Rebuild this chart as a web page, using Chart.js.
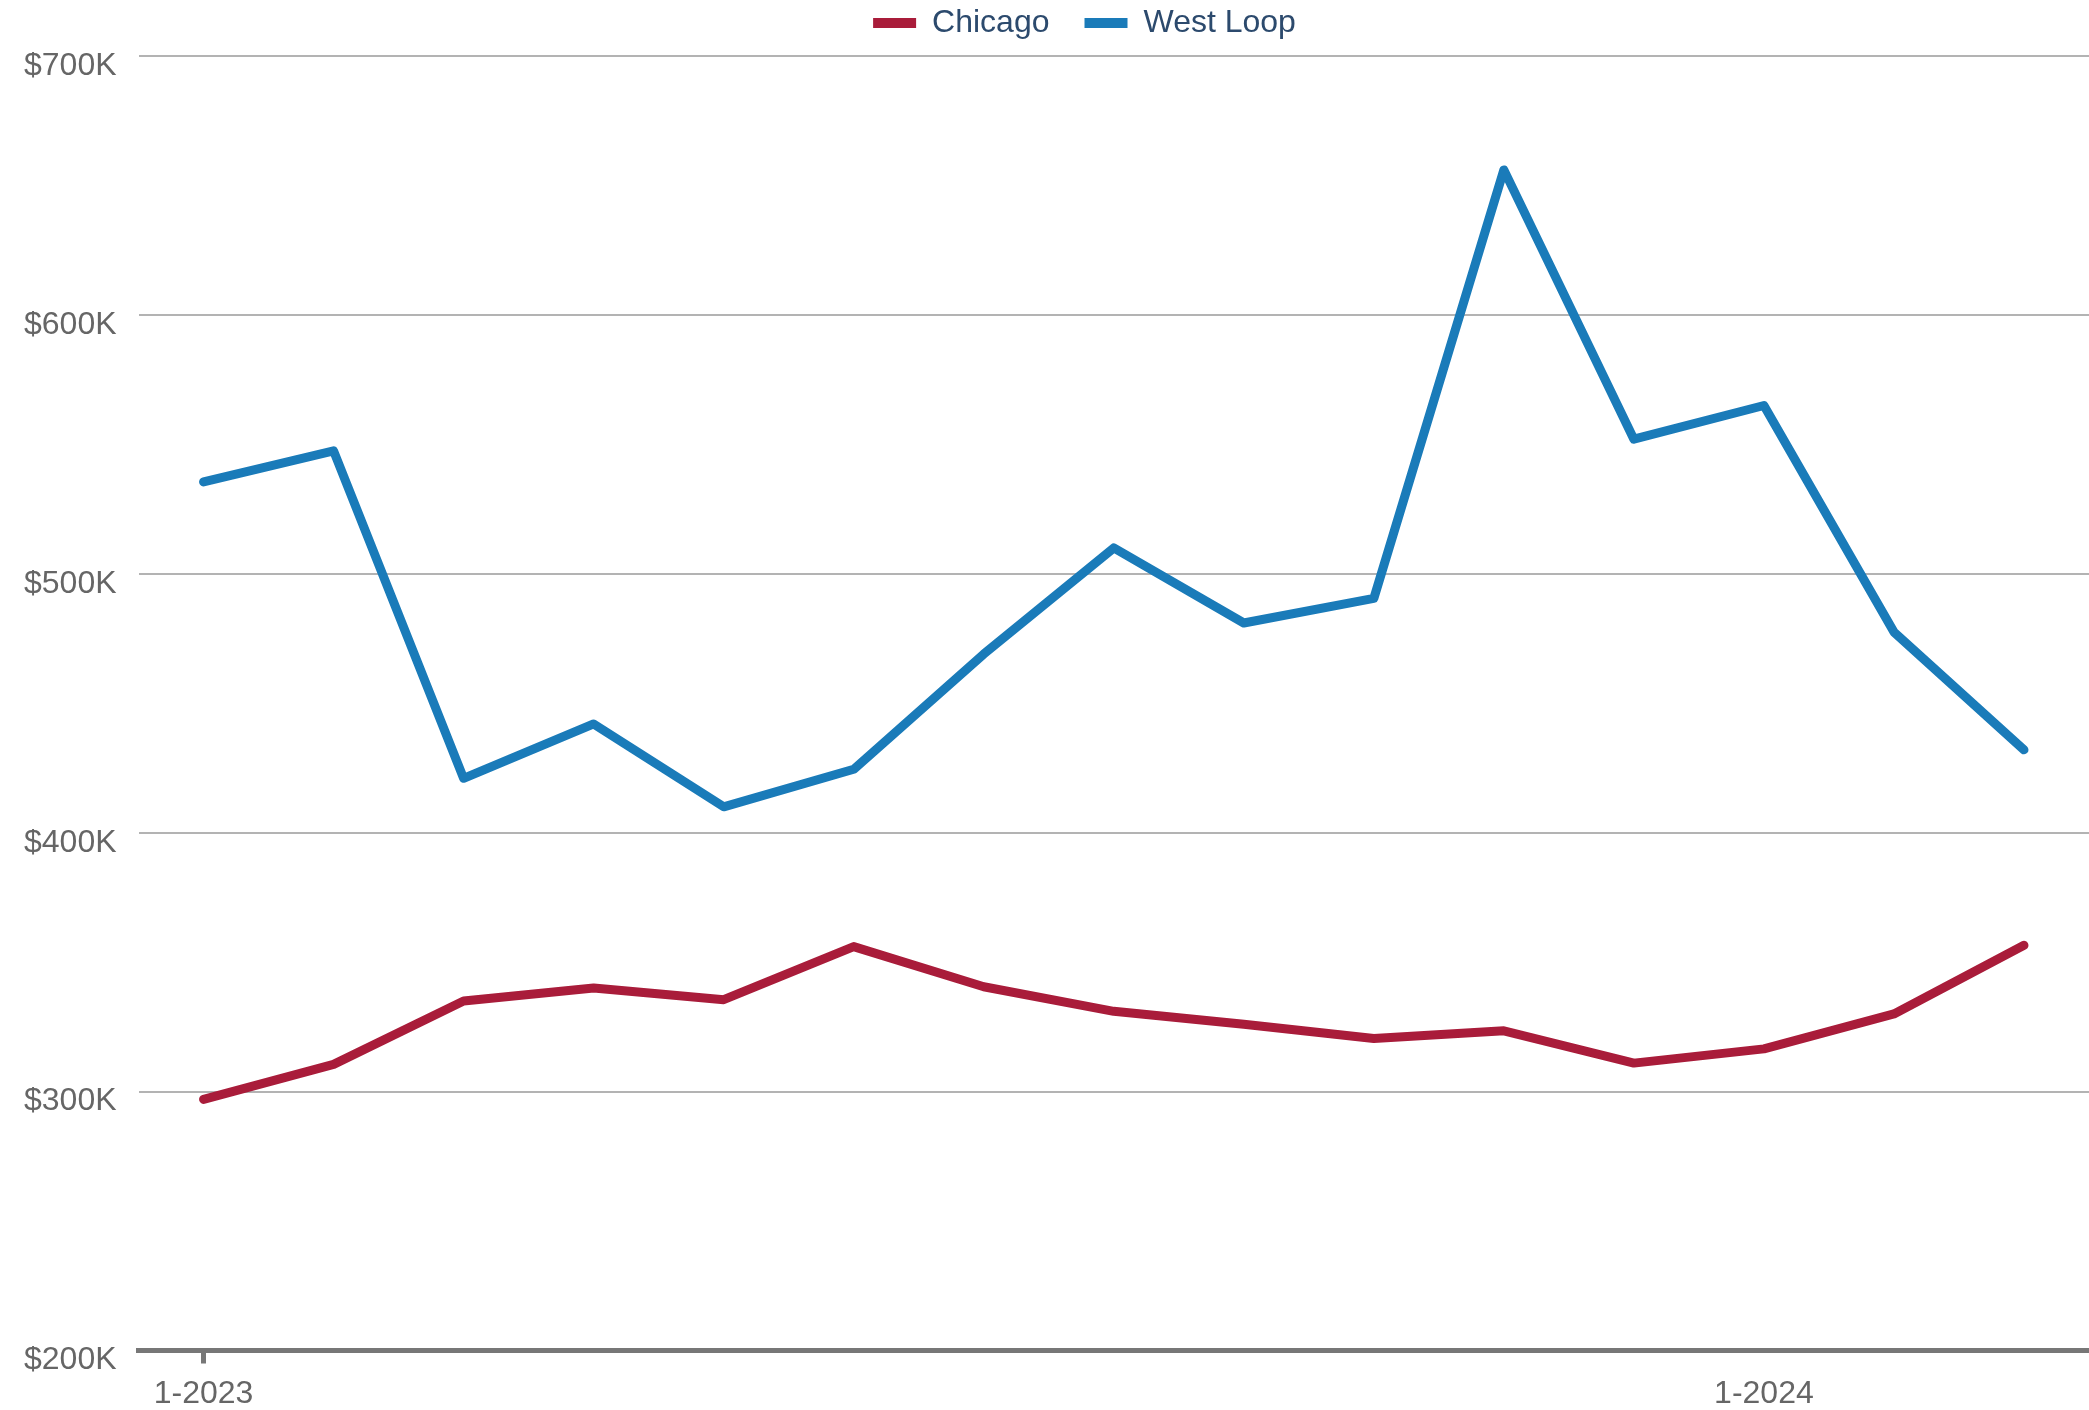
<!DOCTYPE html>
<html>
<head>
<meta charset="utf-8">
<script src="https://cdn.jsdelivr.net/npm/chart.js@4/dist/chart.umd.min.js"></script>
<style>
  html, body { margin: 0; padding: 0; background: #ffffff; overflow: hidden; }
  canvas { display: block; }
</style>
</head>
<body>
<canvas id="chart" width="2089" height="1410"></canvas>
<script>
// Months from 1-2023 to 3-2024
const categories = ['1-2023','2-2023','3-2023','4-2023','5-2023','6-2023','7-2023','8-2023','9-2023','10-2023','11-2023','12-2023','1-2024','2-2024','3-2024'];
// Values in thousands of dollars
const chicagoValues  = [297, 310.5, 335, 340, 335.5, 356, 340.5, 331, 326, 320.5, 323.5, 311, 316.5, 330, 356.5];
const westLoopValues = [535.5, 547.5, 421, 442, 410, 424.5, 469, 510, 481, 490.5, 656, 552, 565, 477.5, 432];
const yTicks = [200, 300, 400, 500, 600, 700];
const xTickLabels = ['1-2023', '1-2024'];

const FONT = "'Liberation Sans', Arial, Helvetica, sans-serif";

new Chart(document.getElementById('chart'), {
  type: 'line',
  data: {
    labels: categories,
    datasets: [
      {
        label: 'Chicago',
        data: chicagoValues,
        borderColor: '#a91c3a',
        backgroundColor: '#a91c3a',
        borderWidth: 9,
        pointRadius: 0,
        pointHoverRadius: 0,
        tension: 0,
        borderCapStyle: 'round',
        borderJoinStyle: 'round',
        fill: false
      },
      {
        label: 'West Loop',
        data: westLoopValues,
        borderColor: '#1a7bb9',
        backgroundColor: '#1a7bb9',
        borderWidth: 9,
        pointRadius: 0,
        pointHoverRadius: 0,
        tension: 0,
        borderCapStyle: 'round',
        borderJoinStyle: 'round',
        fill: false
      }
    ]
  },
  options: {
    responsive: false,
    devicePixelRatio: 1,
    animation: false,
    layout: { padding: { top: -39, left: 2, right: -78, bottom: 0 } },
    plugins: {
      tooltip: { enabled: false },
      // empty spacer boxes used only to position the legend like the original
      title: {
        display: true,
        text: '',
        position: 'right',
        fullSize: false,
        padding: 0,
        font: { family: FONT, size: 78, lineHeight: 1 }
      },
      subtitle: {
        display: true,
        text: '',
        position: 'top',
        weight: 500,
        fullSize: false,
        padding: 0,
        font: { family: FONT, size: 7, lineHeight: 1 }
      },
      legend: {
        position: 'top',
        align: 'center',
        fullSize: true,
        labels: {
          boxWidth: 43,
          boxHeight: 10,
          padding: 35,
          color: '#2c4a6d',
          font: { family: FONT, size: 32 },
          generateLabels: (chart) => {
            const items = Chart.defaults.plugins.legend.labels.generateLabels(chart);
            return items.map(it => Object.assign(it, { lineWidth: 0, strokeStyle: 'rgba(0,0,0,0)' }));
          }
        }
      }
    },
    scales: {
      x: {
        type: 'category',
        offset: true,
        border: { display: true, color: '#777777', width: 5 },
        grid: {
          display: true,
          drawOnChartArea: false,
          drawTicks: true,
          offset: false,
          tickLength: 13,
          lineWidth: 5,
          tickColor: (ctx) => (xTickLabels.includes(categories[ctx.index]) ? '#777777' : 'rgba(0,0,0,0)')
        },
        afterFit: (scale) => { scale.height = 59.5; },
        ticks: {
          autoSkip: false,
          maxRotation: 0,
          minRotation: 0,
          padding: 11.5,
          color: '#666666',
          font: { family: FONT, size: 32 },
          callback: function (value, index) {
            const lab = categories[index];
            return xTickLabels.includes(lab) ? lab : null;
          }
        }
      },
      y: {
        min: yTicks[0],
        max: yTicks[yTicks.length - 1],
        border: { display: false },
        grid: {
          color: '#b3b3b3',
          lineWidth: 2,
          drawTicks: false
        },
        afterBuildTicks: (scale) => {
          scale.ticks = yTicks.map(v => ({ value: v }));
        },
        ticks: {
          stepSize: 100,
          padding: 22,
          labelOffset: 10,
          color: '#666666',
          font: { family: FONT, size: 32, lineHeight: 2.125 },
          callback: (v) => '$' + v + 'K'
        }
      }
    }
  }
});
</script>
</body>
</html>
